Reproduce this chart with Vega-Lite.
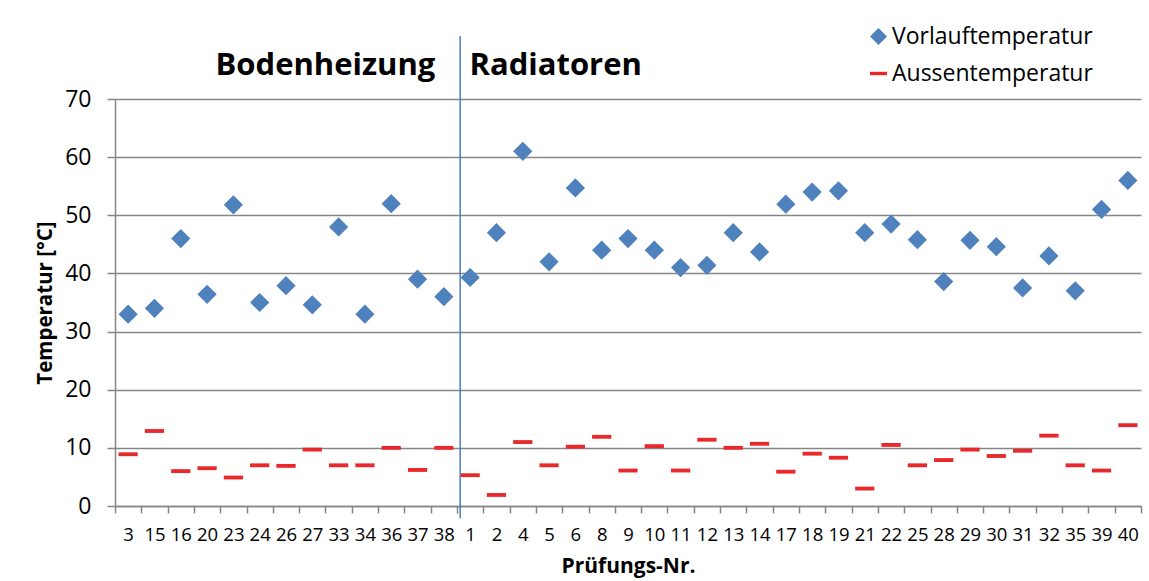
{
  "$schema": "https://vega.github.io/schema/vega-lite/v6.json",
  "width": 1026,
  "height": 407,
  "autosize": {"type": "none"},
  "padding": {"left": 115, "top": 99, "right": 8, "bottom": 75},
  "background": "white",
  "config": {
    "font": "Open Sans",
    "view": {"stroke": null},
    "axis": {"labelColor": "#000000", "titleColor": "#000000", "domainColor": "#868686", "tickColor": "#868686", "gridColor": "#868686"}
  },
  "layer": [
    {
      "data": {"values": [
        {"nr": "3", "Vorlauftemperatur": 33.0, "Aussentemperatur": 8.9},
        {"nr": "15", "Vorlauftemperatur": 34.0, "Aussentemperatur": 12.9},
        {"nr": "16", "Vorlauftemperatur": 46.0, "Aussentemperatur": 6.0},
        {"nr": "20", "Vorlauftemperatur": 36.4, "Aussentemperatur": 6.5},
        {"nr": "23", "Vorlauftemperatur": 51.8, "Aussentemperatur": 4.9},
        {"nr": "24", "Vorlauftemperatur": 35.0, "Aussentemperatur": 7.0},
        {"nr": "26", "Vorlauftemperatur": 37.9, "Aussentemperatur": 6.9},
        {"nr": "27", "Vorlauftemperatur": 34.6, "Aussentemperatur": 9.7},
        {"nr": "33", "Vorlauftemperatur": 48.0, "Aussentemperatur": 7.0},
        {"nr": "34", "Vorlauftemperatur": 33.0, "Aussentemperatur": 7.0},
        {"nr": "36", "Vorlauftemperatur": 52.0, "Aussentemperatur": 10.0},
        {"nr": "37", "Vorlauftemperatur": 39.0, "Aussentemperatur": 6.2},
        {"nr": "38", "Vorlauftemperatur": 36.0, "Aussentemperatur": 10.0},
        {"nr": "1", "Vorlauftemperatur": 39.3, "Aussentemperatur": 5.3},
        {"nr": "2", "Vorlauftemperatur": 47.0, "Aussentemperatur": 1.9},
        {"nr": "4", "Vorlauftemperatur": 61.0, "Aussentemperatur": 11.0},
        {"nr": "5", "Vorlauftemperatur": 42.0, "Aussentemperatur": 7.0},
        {"nr": "6", "Vorlauftemperatur": 54.7, "Aussentemperatur": 10.2},
        {"nr": "8", "Vorlauftemperatur": 44.0, "Aussentemperatur": 11.9},
        {"nr": "9", "Vorlauftemperatur": 46.0, "Aussentemperatur": 6.1},
        {"nr": "10", "Vorlauftemperatur": 44.0, "Aussentemperatur": 10.3},
        {"nr": "11", "Vorlauftemperatur": 41.0, "Aussentemperatur": 6.1},
        {"nr": "12", "Vorlauftemperatur": 41.4, "Aussentemperatur": 11.4},
        {"nr": "13", "Vorlauftemperatur": 47.0, "Aussentemperatur": 10.0},
        {"nr": "14", "Vorlauftemperatur": 43.7, "Aussentemperatur": 10.7},
        {"nr": "17", "Vorlauftemperatur": 51.9, "Aussentemperatur": 5.9},
        {"nr": "18", "Vorlauftemperatur": 54.0, "Aussentemperatur": 9.0},
        {"nr": "19", "Vorlauftemperatur": 54.2, "Aussentemperatur": 8.3},
        {"nr": "21", "Vorlauftemperatur": 47.0, "Aussentemperatur": 3.0},
        {"nr": "22", "Vorlauftemperatur": 48.5, "Aussentemperatur": 10.5},
        {"nr": "25", "Vorlauftemperatur": 45.8, "Aussentemperatur": 7.0},
        {"nr": "28", "Vorlauftemperatur": 38.6, "Aussentemperatur": 7.9},
        {"nr": "29", "Vorlauftemperatur": 45.7, "Aussentemperatur": 9.7},
        {"nr": "30", "Vorlauftemperatur": 44.6, "Aussentemperatur": 8.6},
        {"nr": "31", "Vorlauftemperatur": 37.5, "Aussentemperatur": 9.5},
        {"nr": "32", "Vorlauftemperatur": 43.0, "Aussentemperatur": 12.1},
        {"nr": "35", "Vorlauftemperatur": 37.0, "Aussentemperatur": 7.0},
        {"nr": "39", "Vorlauftemperatur": 51.0, "Aussentemperatur": 6.1},
        {"nr": "40", "Vorlauftemperatur": 56.0, "Aussentemperatur": 13.9}
      ]},
      "transform": [{"fold": ["Vorlauftemperatur", "Aussentemperatur"], "as": ["series", "temp"]}],
      "mark": {"type": "point", "filled": true, "opacity": 1, "size": 370},
      "encoding": {
        "x": {
          "field": "nr", "type": "nominal",
          "scale": {"domain": ["3","15","16","20","23","24","26","27","33","34","36","37","38","1","2","4","5","6","8","9","10","11","12","13","14","17","18","19","21","22","25","28","29","30","31","32","35","39","40"], "paddingInner": 0, "paddingOuter": 0},
          "axis": {"title": "Prüfungs-Nr.", "labelAngle": 0, "labelFontSize": 18.5, "labelPadding": 12, "tickBand": "extent", "tickSize": 7, "tickWidth": 1.5, "domainWidth": 1.5, "grid": false, "titleFontSize": 21, "titleFontWeight": "bold", "titlePadding": 12}
        },
        "y": {
          "field": "temp", "type": "quantitative",
          "scale": {"domain": [0, 70], "nice": false, "zero": true},
          "axis": {"title": "Temperatur [°C]", "values": [0,10,20,30,40,50,60,70], "labelFontSize": 23, "labelPadding": 16, "tickSize": 8, "tickWidth": 1.5, "domainWidth": 1.5, "grid": true, "gridWidth": 1.5, "titleFontSize": 20.5, "titleFontWeight": "bold", "titlePadding": 9}
        },
        "color": {
          "field": "series", "type": "nominal",
          "scale": {"domain": ["Vorlauftemperatur", "Aussentemperatur"], "range": ["#4F81BD", "#E8282B"]},
          "legend": {"title": null, "orient": "none", "legendX": 752, "legendY": -74, "labelFontSize": 23, "labelLimit": 0, "labelColor": "#000000", "symbolSize": 289, "symbolStrokeWidth": 0, "rowPadding": 13, "labelOffset": 2, "padding": 0}
        },
        "shape": {
          "field": "series", "type": "nominal",
          "scale": {"domain": ["Vorlauftemperatur", "Aussentemperatur"], "range": ["diamond", "M-1,-0.2L1,-0.2L1,0.2L-1,0.2Z"]},
          "legend": {"title": null, "orient": "none", "legendX": 752, "legendY": -74, "labelFontSize": 23, "labelLimit": 0, "labelColor": "#000000", "symbolSize": 289, "symbolStrokeWidth": 0, "rowPadding": 13, "labelOffset": 2, "padding": 0}
        }
      }
    },
    {
      "data": {"values": [{"divider": "Bodenheizung | Radiatoren"}]},
      "mark": {"type": "rule", "color": "#4A7EBB", "strokeWidth": 1.5},
      "encoding": {
        "x": {"datum": "1", "type": "nominal", "bandPosition": 0.12},
        "y": {"datum": 80.8, "type": "quantitative"},
        "y2": {"datum": -2.1}
      }
    },
    {
      "data": {"values": [{"label": "Bodenheizung"}]},
      "mark": {"type": "text", "font": "Open Sans", "fontWeight": "bold", "fontSize": 31, "align": "center", "baseline": "alphabetic", "color": "#000000"},
      "encoding": {
        "x": {"datum": "33", "type": "nominal", "bandPosition": 0},
        "y": {"datum": 74.1, "type": "quantitative"},
        "text": {"field": "label"}
      }
    },
    {
      "data": {"values": [{"label": "Radiatoren"}]},
      "mark": {"type": "text", "font": "Open Sans", "fontWeight": "bold", "fontSize": 31, "align": "center", "baseline": "alphabetic", "color": "#000000"},
      "encoding": {
        "x": {"datum": "5", "type": "nominal", "bandPosition": 0.75},
        "y": {"datum": 74.1, "type": "quantitative"},
        "text": {"field": "label"}
      }
    }
  ]
}
